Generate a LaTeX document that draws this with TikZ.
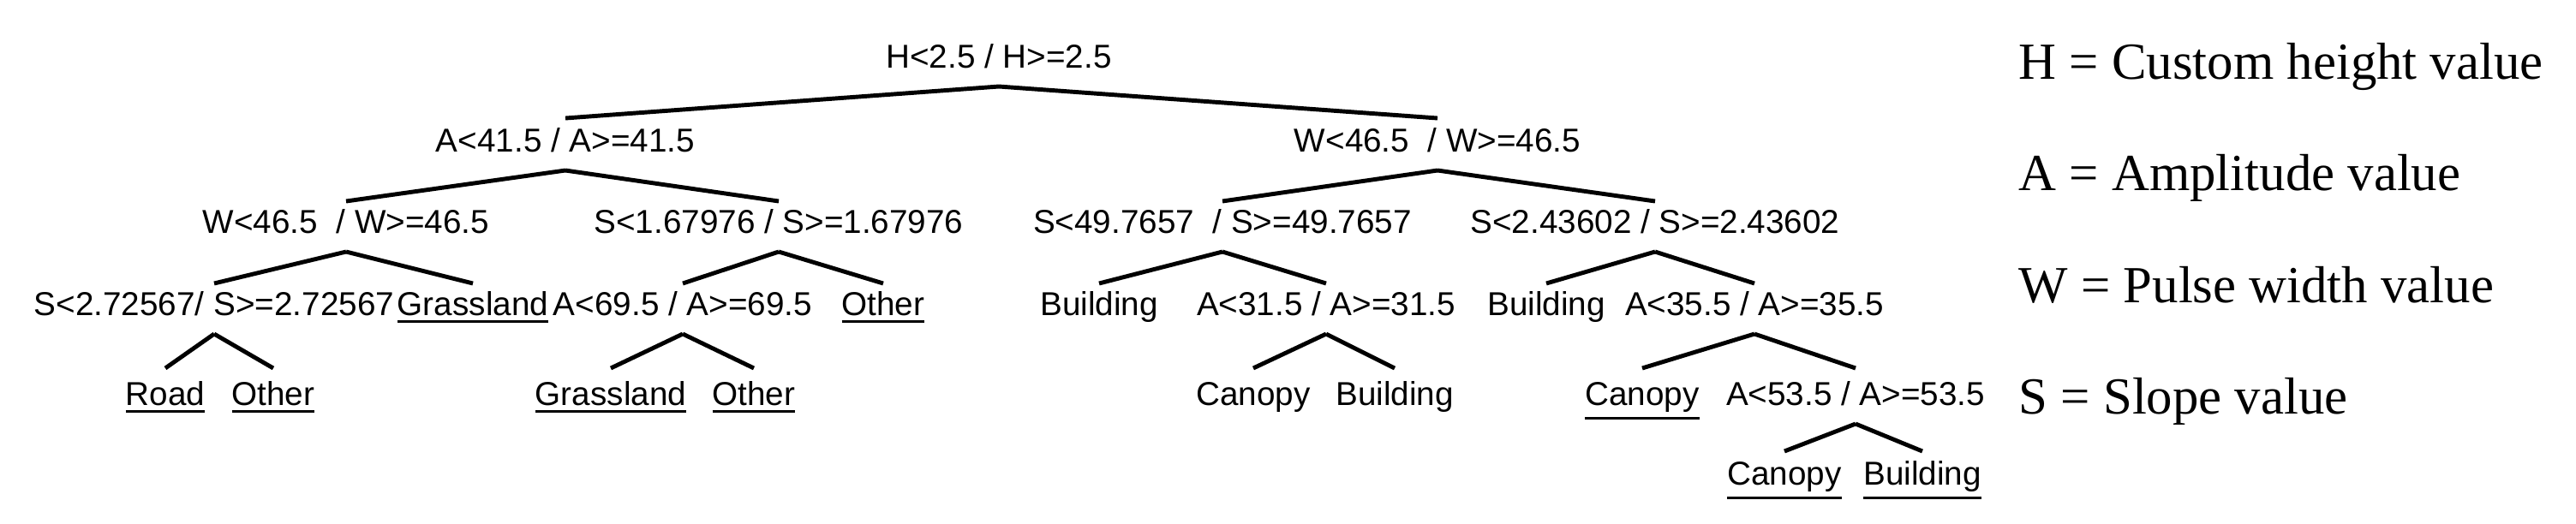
\documentclass[tikz,border=0pt]{standalone}
\usepackage{fontspec}
\setmainfont{Liberation Serif}
\newfontfamily\treefont{Liberation Sans}
\newcommand{\ulabel}[1]{\leavevmode\vtop{\hbox{#1}\kern1.6pt\hrule height .9pt}}

\begin{document}
\begin{tikzpicture}

        \useasboundingbox (0,0) rectangle (30.07,-6.11);

        \begin{scope}[every node/.style={anchor=base,inner sep=0pt,font=\treefont\fontsize{11}{13}\selectfont}]
          \node (1)  at (11.66,-0.79) {H<2.5 / H>=2.5};
          \node (2)  at (6.60,-1.77)  {A<41.5 / A>=41.5};
          \node (3)  at (16.78,-1.77) {W<46.5~ / W>=46.5};
          \node (4)  at (4.04,-2.72)  {W<46.5~ / W>=46.5};
          \node (5)  at (9.09,-2.72)  {S<1.67976 / S>=1.67976};
          \node (6)  at (14.27,-2.72) {S<49.7657~ / S>=49.7657};
          \node (7)  at (19.32,-2.72) {S<2.43602 / S>=2.43602};
          \node (8)  at (2.50,-3.68)  {S<2.72567/ S>=2.72567};
          \node (9)  at (5.52,-3.68)  {\ulabel{Grassland}};
          \node (10) at (7.97,-3.68)  {A<69.5 / A>=69.5};
          \node (11) at (10.31,-3.68) {\ulabel{Other}};
          \node (12) at (12.83,-3.68) {Building};
          \node (13) at (15.48,-3.68) {A<31.5 / A>=31.5};
          \node (14) at (18.05,-3.68) {Building};
          \node (15) at (20.48,-3.68) {A<35.5 / A>=35.5};
          \node (16) at (1.93,-4.73)  {\ulabel{Road}};
          \node (17) at (3.19,-4.73)  {\ulabel{Other}};
          \node (18) at (7.13,-4.73)  {\ulabel{Grassland}};
          \node (19) at (8.80,-4.73)  {\ulabel{Other}};
          \node (20) at (14.63,-4.73) {Canopy};
          \node (21) at (16.28,-4.73) {Building};
          \node (22) at (19.17,-4.73) {\ulabel{Canopy}};
          \node (23) at (21.66,-4.73) {A<53.5 / A>=53.5};
          \node (24) at (20.83,-5.66) {\ulabel{Canopy}};
          \node (25) at (22.44,-5.66) {\ulabel{Building}};
        \end{scope}

        \begin{scope}[every edge/.style={draw,line width=1.4pt}]
          \path ([yshift=-.22cm]1.base)  edge ([yshift=.39cm]2.base);
          \path ([yshift=-.22cm]1.base)  edge ([yshift=.39cm]3.base);
          \path ([yshift=-.22cm]2.base)  edge ([yshift=.37cm]4.base);
          \path ([yshift=-.22cm]2.base)  edge ([yshift=.37cm]5.base);
          \path ([yshift=-.22cm]3.base)  edge ([yshift=.37cm]6.base);
          \path ([yshift=-.22cm]3.base)  edge ([yshift=.37cm]7.base);
          \path ([yshift=-.22cm]4.base)  edge ([yshift=.37cm]8.base);
          \path ([yshift=-.22cm]4.base)  edge ([yshift=.37cm]9.base);
          \path ([yshift=-.22cm]5.base)  edge ([yshift=.37cm]10.base);
          \path ([yshift=-.22cm]5.base)  edge ([yshift=.37cm]11.base);
          \path ([yshift=-.22cm]6.base)  edge ([yshift=.37cm]12.base);
          \path ([yshift=-.22cm]6.base)  edge ([yshift=.37cm]13.base);
          \path ([yshift=-.22cm]7.base)  edge ([yshift=.37cm]14.base);
          \path ([yshift=-.22cm]7.base)  edge ([yshift=.37cm]15.base);
          \path ([yshift=-.22cm]8.base)  edge ([yshift=.43cm]16.base);
          \path ([yshift=-.22cm]8.base)  edge ([yshift=.43cm]17.base);
          \path ([yshift=-.22cm]10.base) edge ([yshift=.43cm]18.base);
          \path ([yshift=-.22cm]10.base) edge ([yshift=.43cm]19.base);
          \path ([yshift=-.22cm]13.base) edge ([yshift=.43cm]20.base);
          \path ([yshift=-.22cm]13.base) edge ([yshift=.43cm]21.base);
          \path ([yshift=-.22cm]15.base) edge ([yshift=.43cm]22.base);
          \path ([yshift=-.22cm]15.base) edge ([yshift=.43cm]23.base);
          \path ([yshift=-.22cm]23.base) edge ([yshift=.39cm]24.base);
          \path ([yshift=-.22cm]23.base) edge ([yshift=.39cm]25.base);
        \end{scope}

        \begin{scope}[every node/.style={anchor=base west,inner sep=0pt,font=\fontsize{17.3}{20}\selectfont}]
          \node (H) at (23.56,-0.92) {H = Custom height value};
          \node (A) at (23.56,-2.22) {A = Amplitude value};
          \node (W) at (23.56,-3.53) {W = Pulse width value};
          \node (S) at (23.56,-4.83) {S = Slope value};
        \end{scope}

      \end{tikzpicture}
\end{document}
